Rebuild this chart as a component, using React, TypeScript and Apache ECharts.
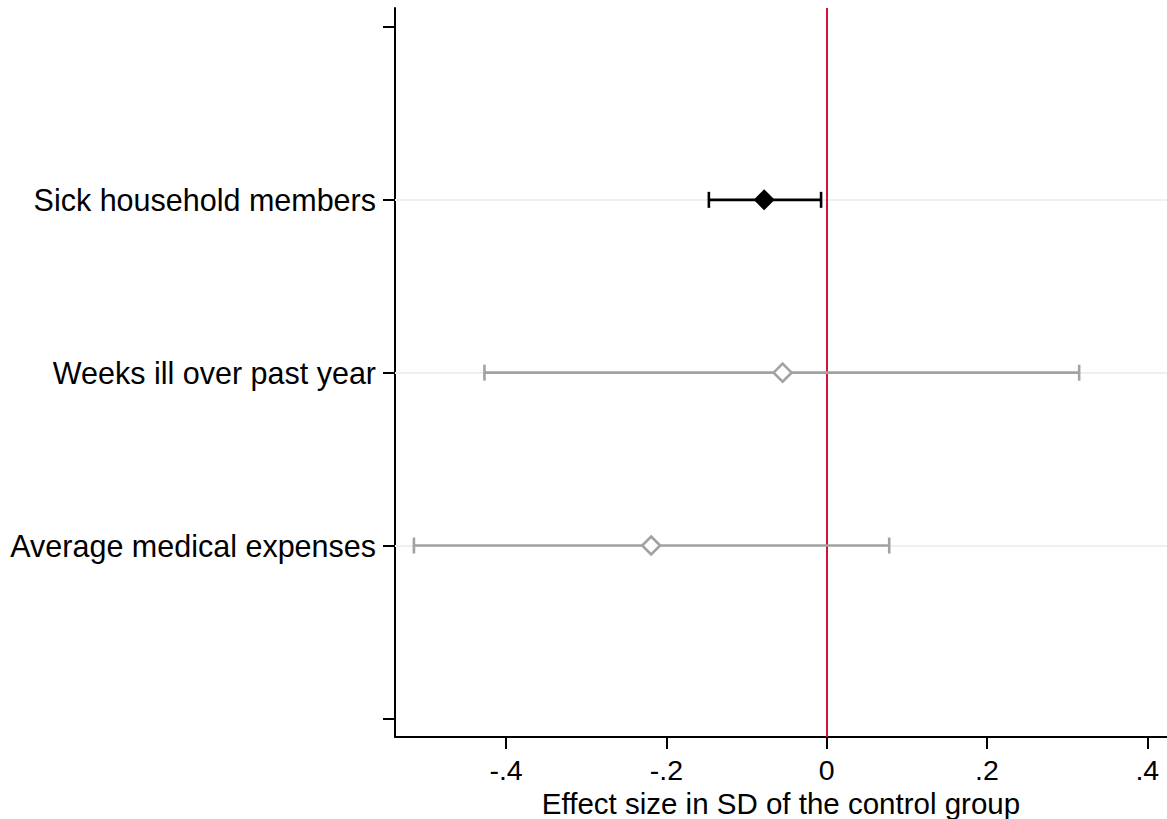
import React, { useEffect, useRef } from "react";
import * as echarts from "echarts";

const categories = ["Average medical expenses", "Weeks ill over past year", "Sick household members"];
const positions = [1, 2, 3];
const estimates = [-0.219, -0.055, -0.078];
const lowerCI = [-0.515, -0.427, -0.147];
const upperCI = [0.078, 0.315, -0.007];
const significant = [false, false, true];
const xTicks = [-0.4, -0.2, 0, 0.2, 0.4];
const yTicks = [0, 1, 2, 3, 4];

const FONT = "'Liberation Sans', Arial, Helvetica, sans-serif";
const GRAY = "#a2a2a2";

function fmt(v: number): string {
  if (Math.abs(v) < 1e-9) return "0";
  const s = String(Math.round(v * 10) / 10);
  return s.replace("0.", ".");
}

export default function App() {
  const ref = useRef<HTMLDivElement>(null);
  useEffect(() => {
    if (!ref.current) return;
    const chart = echarts.init(ref.current, undefined, { renderer: "svg" });
    const barData = positions.map((p, i) => [lowerCI[i], upperCI[i], p, significant[i] ? 1 : 0]);
    const sigPts = positions.map((p, i) => (significant[i] ? [estimates[i], p] : null)).filter(Boolean);
    const nsPts = positions.map((p, i) => (!significant[i] ? [estimates[i], p] : null)).filter(Boolean);
    chart.setOption({
      animation: false,
      backgroundColor: "#ffffff",
      grid: { left: 395, right: 0, top: 8, bottom: 82, containLabel: false, outerBoundsMode: "none" },
      xAxis: {
        type: "value",
        min: -0.5386,
        max: 0.4246,
        name: "Effect size in SD of the control group",
        nameLocation: "middle",
        nameGap: 54,
        nameMoveOverlap: false,
        nameTextStyle: { fontFamily: FONT, fontSize: 29.5, lineHeight: 24, color: "#000" },
        axisLine: { show: true, onZero: false, lineStyle: { color: "#000", width: 2 } },
        axisTick: { show: true, length: 12, customValues: xTicks, lineStyle: { color: "#000", width: 2 } },
        axisLabel: {
          customValues: xTicks,
          formatter: (v: number) => fmt(v),
          fontFamily: FONT,
          fontSize: 28.5,
          lineHeight: 24,
          color: "#000",
          margin: 21,
        },
        splitLine: { show: false },
      },
      yAxis: {
        type: "value",
        min: -0.108,
        max: 4.11,
        axisLine: { show: true, onZero: false, lineStyle: { color: "#000", width: 2 } },
        axisTick: { show: true, length: 12, customValues: yTicks, lineStyle: { color: "#000", width: 2 } },
        axisLabel: {
          customValues: positions,
          formatter: (v: number) => {
            const i = positions.indexOf(Math.round(v));
            return i >= 0 ? categories[i] : "";
          },
          fontFamily: FONT,
          fontSize: 30.5,
          color: "#000",
          margin: 19,
        },
        splitLine: { show: false },
      },
      series: [
        {
          type: "scatter",
          data: [],
          silent: true,
          z: 1,
          markLine: {
            silent: true,
            symbol: "none",
            label: { show: false },
            z: 1,
            data: [
              ...positions.map((p) => ({ yAxis: p, lineStyle: { color: "#eaf1f3", width: 2, type: "solid" } })),
              { xAxis: 0, lineStyle: { color: "#d3123e", width: 2, type: "solid" } },
            ],
          },
        },
        {
          type: "custom",
          z: 3,
          silent: true,
          data: barData,
          encode: { x: [0, 1], y: 2 },
          renderItem: (params: any, api: any) => {
            const lo = api.value(0);
            const hi = api.value(1);
            const y = api.value(2);
            const sig = api.value(3) === 1;
            const a = api.coord([lo, y]);
            const b = api.coord([hi, y]);
            const color = sig ? "#000000" : GRAY;
            const w = 2.6;
            const h = 8;
            const style = { stroke: color, lineWidth: w, fill: "none" };
            return {
              type: "group",
              children: [
                { type: "line", shape: { x1: a[0], y1: a[1], x2: b[0], y2: b[1] }, style },
                { type: "line", shape: { x1: a[0], y1: a[1] - h, x2: a[0], y2: a[1] + h }, style },
                { type: "line", shape: { x1: b[0], y1: b[1] - h, x2: b[0], y2: b[1] + h }, style },
              ],
            };
          },
        },
        {
          type: "scatter",
          z: 4,
          silent: true,
          symbol: "diamond",
          symbolSize: 21,
          data: sigPts,
          itemStyle: { color: "#000000", borderColor: "#000", borderWidth: 0, opacity: 1 },
        },
        {
          type: "scatter",
          z: 4,
          silent: true,
          symbol: "diamond",
          symbolSize: 18,
          data: nsPts,
          itemStyle: { color: "#ffffff", borderColor: GRAY, borderWidth: 2.6, opacity: 1 },
        },
      ],
    });
    return () => chart.dispose();
  }, []);
  return (
    <div
      ref={ref}
      style={{ position: "fixed", left: 0, top: 0, width: 1167, height: 819, background: "#fff" }}
    />
  );
}
